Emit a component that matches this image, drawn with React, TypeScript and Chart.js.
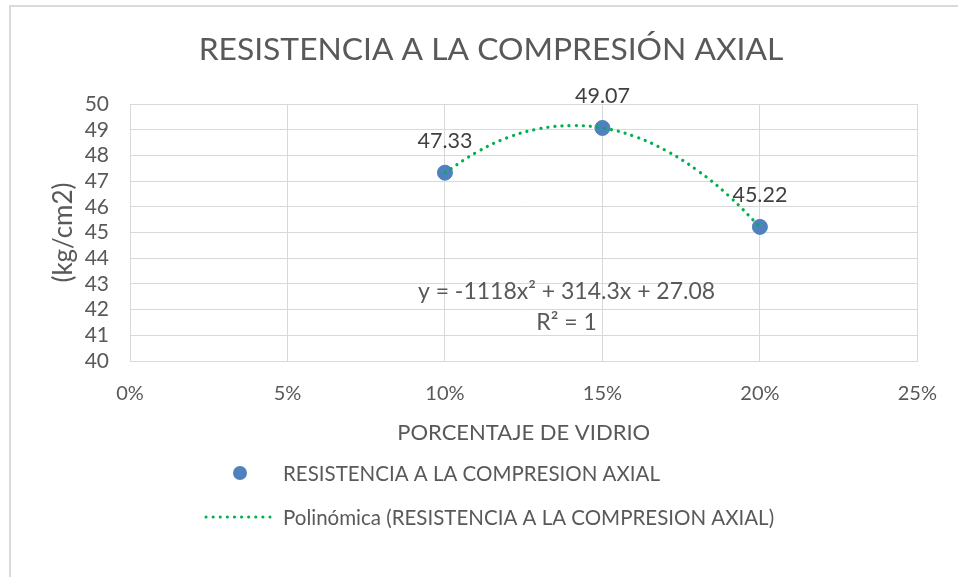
import React, { useEffect, useRef } from "react";
import { Chart, registerables } from "chart.js";

Chart.register(...registerables);

// ---- data ----
const TITLE = "RESISTENCIA A LA COMPRESIÓN AXIAL";
const X_TITLE = "PORCENTAJE DE VIDRIO";
const Y_TITLE = "(kg/cm2)";
const SERIES_NAME = "RESISTENCIA A LA COMPRESION AXIAL";
const TREND_NAME = "Polinómica (RESISTENCIA A LA COMPRESION AXIAL)";
const X_VALUES = [10, 15, 20]; // % vidrio
const Y_VALUES = [47.33, 49.07, 45.22];
const DATA_LABELS = ["47.33", "49.07", "45.22"];
// dotted polynomial trendline
const TREND_X = [10, 11, 12, 13, 14, 15, 16, 17, 18, 19, 20];
const TREND_Y = [47.33, 48.12, 48.7, 49.04, 49.16, 49.07, 48.75, 48.2, 47.43, 46.44, 45.22];
const EQUATION = "y = -1118x² + 314.3x + 27.08";
const R2_TEXT = "R² = 1";
const X_MIN = 0, X_MAX = 25, X_STEP = 5;
const Y_MIN = 40, Y_MAX = 50, Y_STEP = 1;

const FONT = "Lato, 'Open Sans', sans-serif";
const TEXT = "#595959";
const GRID = "#d9d9d9";
const BLUE = "#4f81bd";
const GREEN = "#00b050";

const overlay = {
  id: "overlay",
  beforeDraw(chart: any) {
    const ctx = chart.ctx;
    ctx.save();
    ctx.fillStyle = "#ffffff";
    ctx.fillRect(0, 0, chart.width, chart.height);
    ctx.strokeStyle = GRID;
    ctx.lineWidth = 2;
    ctx.beginPath();
    ctx.moveTo(10, chart.height);
    ctx.lineTo(10, 6);
    ctx.lineTo(chart.width, 6);
    ctx.stroke();
    ctx.restore();
  },
  afterDatasetsDraw(chart: any) {
    const ctx = chart.ctx;
    const xs = chart.scales.x;
    const ys = chart.scales.y;
    ctx.save();
    ctx.fillStyle = "#404040";
    ctx.font = `21.5px ${FONT}`;
    ctx.textAlign = "center";
    ctx.textBaseline = "middle";
    const meta = chart.getDatasetMeta(1);
    meta.data.forEach((pt: any, i: number) => {
      ctx.fillText(DATA_LABELS[i], pt.x, pt.y - 32);
    });
    // equation
    ctx.fillStyle = TEXT;
    ctx.font = `23px ${FONT}`;
    const ex = xs.getPixelForValue(13.86);
    ctx.fillText(EQUATION, ex, ys.getPixelForValue(42.7));
    ctx.fillText(R2_TEXT, ex, ys.getPixelForValue(41.5));

    // legend
    ctx.font = `20.5px ${FONT}`;
    ctx.textAlign = "left";
    ctx.fillStyle = BLUE;
    ctx.beginPath();
    ctx.arc(240, 473, 7, 0, Math.PI * 2);
    ctx.fill();
    ctx.fillStyle = TEXT;
    ctx.fillText(SERIES_NAME, 283, 474);
    ctx.strokeStyle = GREEN;
    ctx.lineWidth = 3;
    ctx.lineCap = "round";
    ctx.setLineDash([0.1, 7]);
    ctx.beginPath();
    ctx.moveTo(206, 517);
    ctx.lineTo(273, 517);
    ctx.stroke();
    ctx.setLineDash([]);
    ctx.fillText(TREND_NAME, 283, 518);
    ctx.restore();
  },
};

export default function App() {
  const ref = useRef<HTMLCanvasElement | null>(null);
  useEffect(() => {
    if (!ref.current) return;
    const chart = new Chart(ref.current, {
      type: "scatter",
      data: {
        datasets: [
          {
            type: "line",
            label: TREND_NAME,
            data: TREND_X.map((x, i) => ({ x, y: TREND_Y[i] })),
            borderColor: GREEN,
            borderWidth: 3.2,
            borderDash: [0.1, 7],
            borderCapStyle: "round",
            tension: 0.4,
            pointRadius: 0,
            fill: false,
            order: 0,
          } as any,
          {
            type: "scatter",
            label: SERIES_NAME,
            data: X_VALUES.map((x, i) => ({ x, y: Y_VALUES[i] })),
            backgroundColor: BLUE,
            borderColor: BLUE,
            pointRadius: 7.5,
            pointHoverRadius: 7.5,
            order: 1,
          },
        ],
      },
      options: {
        animation: false,
        responsive: false,
        events: [],
        layout: { padding: { left: 62, right: 38, top: 0, bottom: 116 } },
        plugins: {
          legend: { display: false },
          tooltip: { enabled: false },
          title: {
            display: true,
            text: TITLE,
            color: TEXT,
            font: { family: FONT, size: 31.8, weight: "normal", lineHeight: 1.2 },
            padding: { top: 30.9, bottom: 35 },
          },
        },
        scales: {
          x: {
            type: "linear",
            min: X_MIN,
            max: X_MAX,
            grid: { color: GRID, drawTicks: false },
            border: { color: GRID },
            ticks: {
              stepSize: X_STEP,
              autoSkip: false,
              color: TEXT,
              padding: 21,
              font: { family: FONT, size: 20 },
              callback: (v: any) => `${v}%`,
            },
            title: {
              display: true,
              text: X_TITLE,
              color: TEXT,
              font: { family: FONT, size: 22, lineHeight: 1.2 },
              padding: { top: 0, bottom: 14.8 },
            },
            afterFit: (s: any) => {
              s.height = 100;
            },
          },
          y: {
            type: "linear",
            min: Y_MIN,
            max: Y_MAX,
            grid: { color: GRID, drawTicks: false },
            border: { color: GRID },
            ticks: {
              stepSize: Y_STEP,
              autoSkip: false,
              color: TEXT,
              padding: 21,
              font: { family: FONT, size: 21, lineHeight: 1 },
            },
            title: {
              display: true,
              text: Y_TITLE,
              color: TEXT,
              font: { family: FONT, size: 26, lineHeight: 1.0 },
              padding: { top: -11, bottom: 0 },
            },
            afterFit: (s: any) => {
              s.width = 68;
            },
          },
        },
      },
      plugins: [overlay],
    });
    return () => chart.destroy();
  }, []);
  return (
    <div style={{ position: "absolute", left: 0, top: 0, width: 958, height: 577 }}>
      <canvas ref={ref} width={958} height={577} style={{ display: "block" }} />
    </div>
  );
}
